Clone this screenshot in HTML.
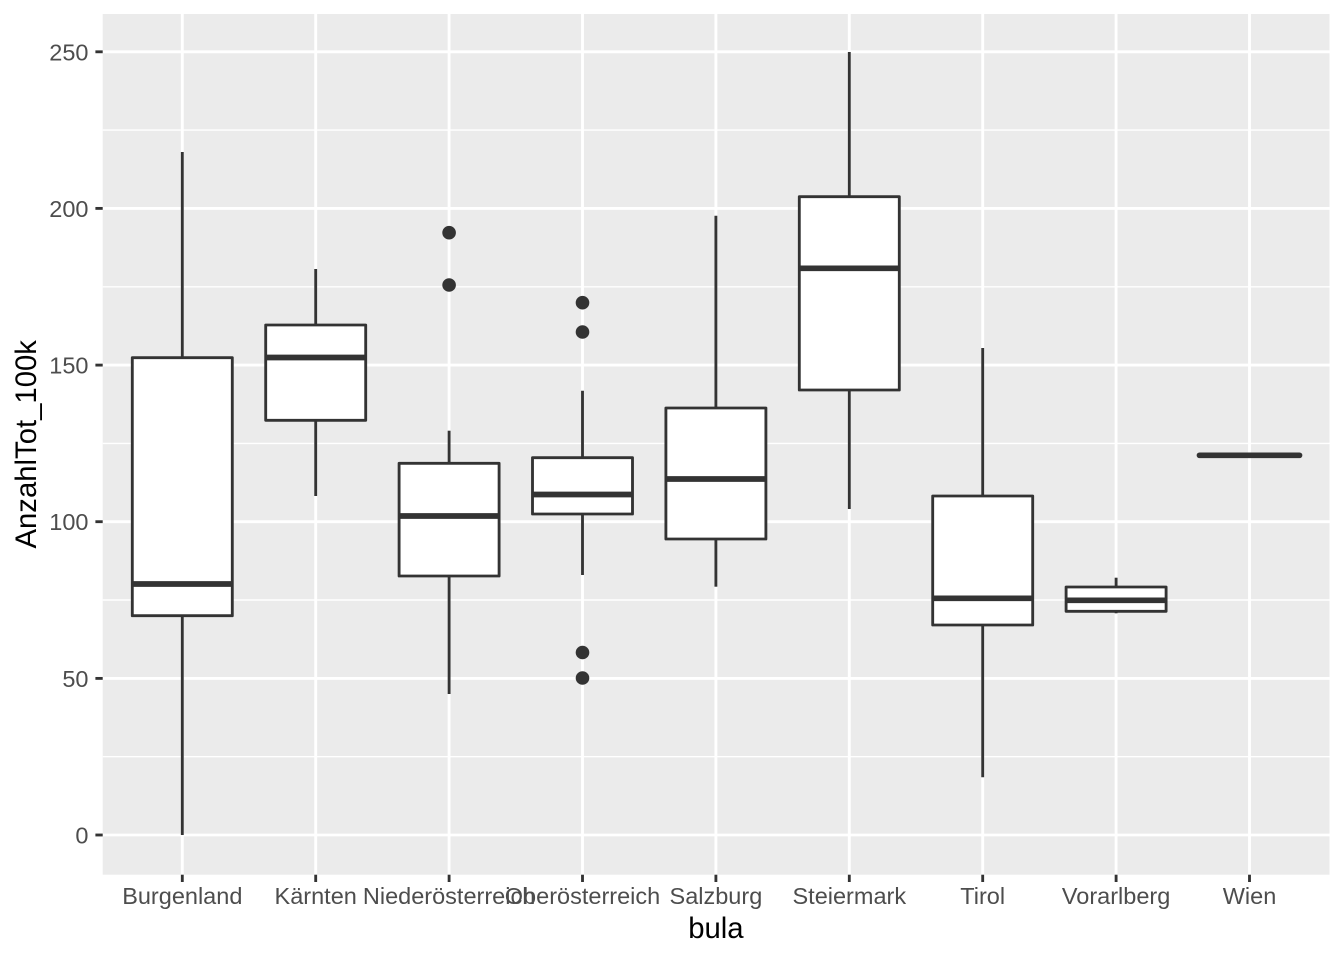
<!DOCTYPE html>
<html><head><meta charset="utf-8"><style>
html,body{margin:0;padding:0;background:#fff;}
svg{display:block;}
text{font-family:"Liberation Sans",Arial,sans-serif;}
</style></head><body>
<svg width="1344" height="960" viewBox="0 0 1344 960" xmlns="http://www.w3.org/2000/svg">
<rect x="0" y="0" width="1344" height="960" fill="#fff"/>
<rect x="102.7" y="14" width="1226.8" height="860.7" fill="#EBEBEB"/>
<g stroke="#fff" stroke-width="1.42">
<line x1="102.7" x2="1329.5" y1="756.7" y2="756.7"/>
<line x1="102.7" x2="1329.5" y1="600.0" y2="600.0"/>
<line x1="102.7" x2="1329.5" y1="443.4" y2="443.4"/>
<line x1="102.7" x2="1329.5" y1="286.8" y2="286.8"/>
<line x1="102.7" x2="1329.5" y1="130.1" y2="130.1"/>
</g>
<g stroke="#fff" stroke-width="2.85">
<line x1="102.7" x2="1329.5" y1="835" y2="835"/>
<line x1="102.7" x2="1329.5" y1="678.4" y2="678.4"/>
<line x1="102.7" x2="1329.5" y1="521.7" y2="521.7"/>
<line x1="102.7" x2="1329.5" y1="365.1" y2="365.1"/>
<line x1="102.7" x2="1329.5" y1="208.4" y2="208.4"/>
<line x1="102.7" x2="1329.5" y1="51.8" y2="51.8"/>
<line y1="14" y2="874.7" x1="182.3" x2="182.3"/>
<line y1="14" y2="874.7" x1="315.7" x2="315.7"/>
<line y1="14" y2="874.7" x1="449.1" x2="449.1"/>
<line y1="14" y2="874.7" x1="582.5" x2="582.5"/>
<line y1="14" y2="874.7" x1="715.9" x2="715.9"/>
<line y1="14" y2="874.7" x1="849.3" x2="849.3"/>
<line y1="14" y2="874.7" x1="982.7" x2="982.7"/>
<line y1="14" y2="874.7" x1="1116.1" x2="1116.1"/>
<line y1="14" y2="874.7" x1="1249.5" x2="1249.5"/>
</g>
<!-- whiskers -->
<g stroke="#333" stroke-width="2.85">
<line x1="182.3" x2="182.3" y1="152" y2="357.7"/><line x1="182.3" x2="182.3" y1="615.7" y2="835"/>
<line x1="315.7" x2="315.7" y1="269" y2="325"/><line x1="315.7" x2="315.7" y1="420.3" y2="496"/>
<line x1="449.1" x2="449.1" y1="430.7" y2="463.3"/><line x1="449.1" x2="449.1" y1="576" y2="694"/>
<line x1="582.5" x2="582.5" y1="390.7" y2="457.7"/><line x1="582.5" x2="582.5" y1="514" y2="575"/>
<line x1="715.9" x2="715.9" y1="215.7" y2="408"/><line x1="715.9" x2="715.9" y1="539" y2="586.7"/>
<line x1="849.3" x2="849.3" y1="52" y2="196.7"/><line x1="849.3" x2="849.3" y1="390" y2="509"/>
<line x1="982.7" x2="982.7" y1="348" y2="496"/><line x1="982.7" x2="982.7" y1="625" y2="777.3"/>
<line x1="1116.1" x2="1116.1" y1="577.7" y2="587"/><line x1="1116.1" x2="1116.1" y1="611.3" y2="613.3"/>
</g>
<!-- boxes -->
<g stroke="#333" stroke-width="2.85" fill="#fff" stroke-linejoin="round">
<rect x="132.3" y="357.7" width="100" height="258"/>
<rect x="265.7" y="325" width="100" height="95.3"/>
<rect x="399.1" y="463.3" width="100" height="112.7"/>
<rect x="532.5" y="457.7" width="100" height="56.3"/>
<rect x="665.9" y="408" width="100" height="131"/>
<rect x="799.3" y="196.7" width="100" height="193.3"/>
<rect x="932.7" y="496" width="100" height="129"/>
<rect x="1066.1" y="587" width="100" height="24.3"/>
<rect x="1199.5" y="455.3" width="100" height="0.01"/>
</g>
<!-- medians -->
<g stroke="#333" stroke-width="5.7">
<line x1="132.3" x2="232.3" y1="584" y2="584"/>
<line x1="265.7" x2="365.7" y1="357.5" y2="357.5"/>
<line x1="399.1" x2="499.1" y1="516" y2="516"/>
<line x1="532.5" x2="632.5" y1="494.5" y2="494.5"/>
<line x1="665.9" x2="765.9" y1="479" y2="479"/>
<line x1="799.3" x2="899.3" y1="268.3" y2="268.3"/>
<line x1="932.7" x2="1032.7" y1="598.3" y2="598.3"/>
<line x1="1066.1" x2="1166.1" y1="600.3" y2="600.3"/>
<line x1="1199.5" x2="1299.5" y1="455.3" y2="455.3" stroke-linecap="round"/>
</g>
<!-- outliers -->
<g fill="#333">
<circle cx="449.1" cy="232.7" r="6.8"/><circle cx="449.1" cy="285" r="6.8"/>
<circle cx="582.5" cy="302.7" r="6.8"/><circle cx="582.5" cy="332" r="6.8"/>
<circle cx="582.5" cy="652.5" r="6.8"/><circle cx="582.5" cy="678" r="6.8"/>
</g>
<!-- ticks -->
<g stroke="#333" stroke-width="2.85">
<line x1="95.4" x2="102.7" y1="835" y2="835"/>
<line x1="95.4" x2="102.7" y1="678.4" y2="678.4"/>
<line x1="95.4" x2="102.7" y1="521.7" y2="521.7"/>
<line x1="95.4" x2="102.7" y1="365.1" y2="365.1"/>
<line x1="95.4" x2="102.7" y1="208.4" y2="208.4"/>
<line x1="95.4" x2="102.7" y1="51.8" y2="51.8"/>
<line y1="874.7" y2="882" x1="182.3" x2="182.3"/>
<line y1="874.7" y2="882" x1="315.7" x2="315.7"/>
<line y1="874.7" y2="882" x1="449.1" x2="449.1"/>
<line y1="874.7" y2="882" x1="582.5" x2="582.5"/>
<line y1="874.7" y2="882" x1="715.9" x2="715.9"/>
<line y1="874.7" y2="882" x1="849.3" x2="849.3"/>
<line y1="874.7" y2="882" x1="982.7" x2="982.7"/>
<line y1="874.7" y2="882" x1="1116.1" x2="1116.1"/>
<line y1="874.7" y2="882" x1="1249.5" x2="1249.5"/>
</g>
<g fill="#4D4D4D" font-size="23.5" text-anchor="end">
<text x="88.5" y="843.5">0</text>
<text x="88.5" y="686.9">50</text>
<text x="88.5" y="530.2">100</text>
<text x="88.5" y="373.6">150</text>
<text x="88.5" y="216.9">200</text>
<text x="88.5" y="60.3">250</text>
</g>
<g fill="#4D4D4D" font-size="23.5" text-anchor="middle">
<text x="182.3" y="904">Burgenland</text>
<text x="315.7" y="904">Kärnten</text>
<text x="449.1" y="904">Niederösterreich</text>
<text x="582.5" y="904">Oberösterreich</text>
<text x="715.9" y="904">Salzburg</text>
<text x="849.3" y="904">Steiermark</text>
<text x="982.7" y="904">Tirol</text>
<text x="1116.1" y="904">Vorarlberg</text>
<text x="1249.5" y="904">Wien</text>
</g>
<text x="715.9" y="938" font-size="29.3" text-anchor="middle" fill="#000">bula</text>
<text x="36" y="444.3" font-size="29.3" text-anchor="middle" fill="#000" transform="rotate(-90 36 444.3)">AnzahlTot_100k</text>
</svg>
</body></html>
